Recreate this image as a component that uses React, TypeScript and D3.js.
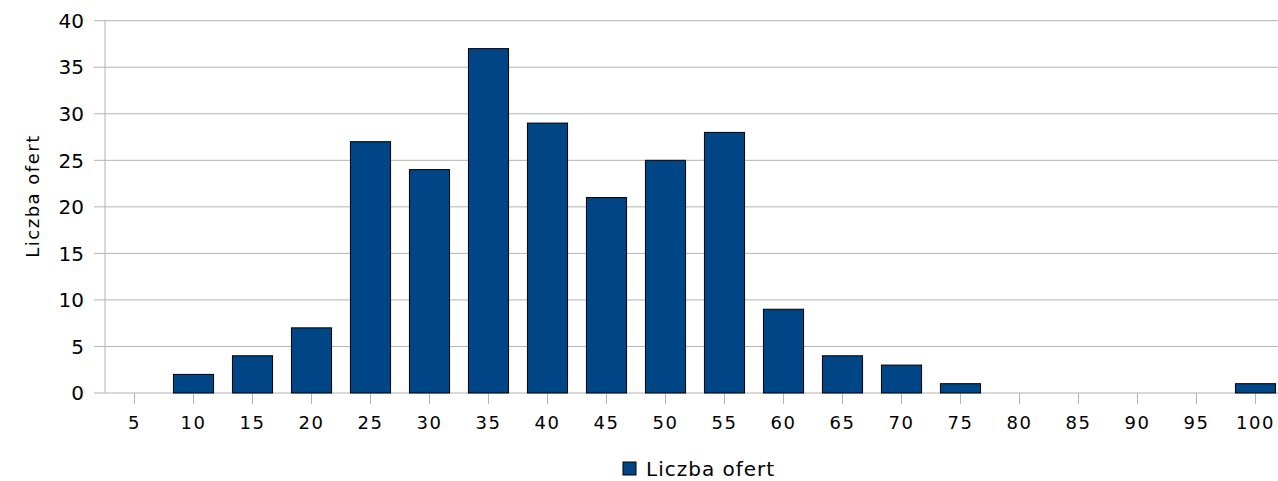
import React from "react";
import * as d3 from "d3";

const categories = ["5","10","15","20","25","30","35","40","45","50","55","60","65","70","75","80","85","90","95","100"];
const values = [0,2,4,7,27,24,37,29,21,25,28,9,4,3,1,0,0,0,0,1];
const yTicks = [0,5,10,15,20,25,30,35,40];
const seriesName = "Liczba ofert";
const axisTitle = "Liczba ofert";

export default function App() {
  const W = 1278, H = 481;
  const left = 105, top = 20.7, bottom = 393;
  const x = d3.scaleBand().domain(categories).range([left, left + 20 * 59]).paddingInner(0.32).paddingOuter(0.16);
  const y = d3.scaleLinear().domain([0, 40]).range([bottom, top]);
  const font = "DejaVu Sans, Verdana, sans-serif";
  return (
    <svg width={W} height={H} style={{ position: "absolute", left: 0, top: 0 }} fontFamily={font}>
      {yTicks.map(t => (
        <g key={t}>
          <line x1={94} x2={W} y1={y(t)} y2={y(t)} stroke="#b3b3b3" strokeWidth={1} />
          <text x={84} y={y(t)} dy="0.36em" textAnchor="end" fontSize={20} fill="#000">{t}</text>
        </g>
      ))}
      <line x1={left} x2={left} y1={top} y2={bottom} stroke="#b3b3b3" strokeWidth={1} />
      {categories.map(c => {
        const cx = (x(c) as number) + x.bandwidth() / 2;
        return (
          <g key={c}>
            <line x1={cx} x2={cx} y1={bottom} y2={404} stroke="#b3b3b3" strokeWidth={1} />
            <text x={cx} y={423} dy="0.36em" textAnchor="middle" fontSize={18} letterSpacing={1.5} fill="#000">{c}</text>
          </g>
        );
      })}
      {categories.map((c, i) => values[i] > 0 ? (
        <rect key={c} x={x(c) as number} y={y(values[i])} width={x.bandwidth()} height={bottom - y(values[i])}
          fill="#004586" stroke="#000" strokeWidth={1} />
      ) : null)}
      <text transform={`translate(33,196) rotate(-90)`} textAnchor="middle" dy="0.36em" fontSize={18} letterSpacing={1.5} fill="#000">{axisTitle}</text>
      <rect x={623} y={462} width={13} height={13} fill="#004586" stroke="#000" strokeWidth={1} />
      <text x={646} y={469} dy="0.36em" fontSize={20} letterSpacing={1} fill="#000">{seriesName}</text>
    </svg>
  );
}
